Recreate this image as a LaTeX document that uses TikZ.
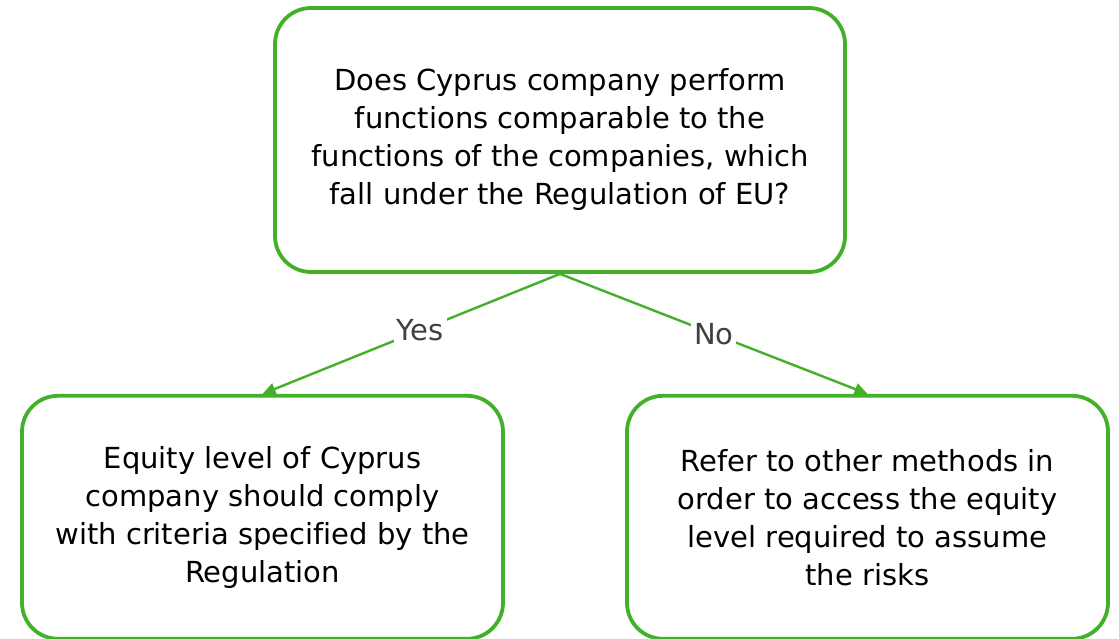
\documentclass[tikz,border=0pt]{standalone}
\usepackage{fontspec}
\setmainfont[Ligatures=CommonOff]{DejaVu Sans}
\usetikzlibrary{arrows.meta,positioning}
\definecolor{leafgreen}{RGB}{67,176,42}
\definecolor{labelgray}{RGB}{64,64,64}
\tikzset{
  box/.style={draw=leafgreen, rounded corners=36pt, line width=3.8pt, align=center, fill=white,
    font=\fontsize{29}{38}\selectfont, inner sep=0pt},
  arrow/.style={-{Triangle[length=13pt,width=12pt]}, draw=leafgreen, line width=2.4pt},
  answer/.style={fill=white, text=labelgray, font=\fontsize{29}{32}\selectfont, inner sep=3pt},
}

\begin{document}
\begin{tikzpicture}
  \useasboundingbox (0pt,0pt) rectangle (1119pt,-639pt);
  % Nodes
  \node[box, minimum width=570pt, minimum height=264pt] (question) at (560pt,-140pt)
    {Does Cyprus company perform\\functions comparable to the\\functions of the companies, which\\fall under the Regulation of EU?};
  \node[box, below=120pt of question, xshift=-297.5pt, minimum width=481pt, minimum height=243pt] (comply)
    {Equity level of Cyprus\\company should comply\\with criteria specified by the\\Regulation};
  \node[box, below=120pt of question, xshift=307.5pt, minimum width=481pt, minimum height=243pt] (other)
    {Refer to other methods in\\order to access the equity\\level required to assume\\the risks};

  % Arrows
  \draw[arrow] (question.south) -- node[answer, pos=0.47] {Yes} (comply.north);
  \draw[arrow] (question.south) -- node[answer, pos=0.5] {No} (other.north);
\end{tikzpicture}
\end{document}
